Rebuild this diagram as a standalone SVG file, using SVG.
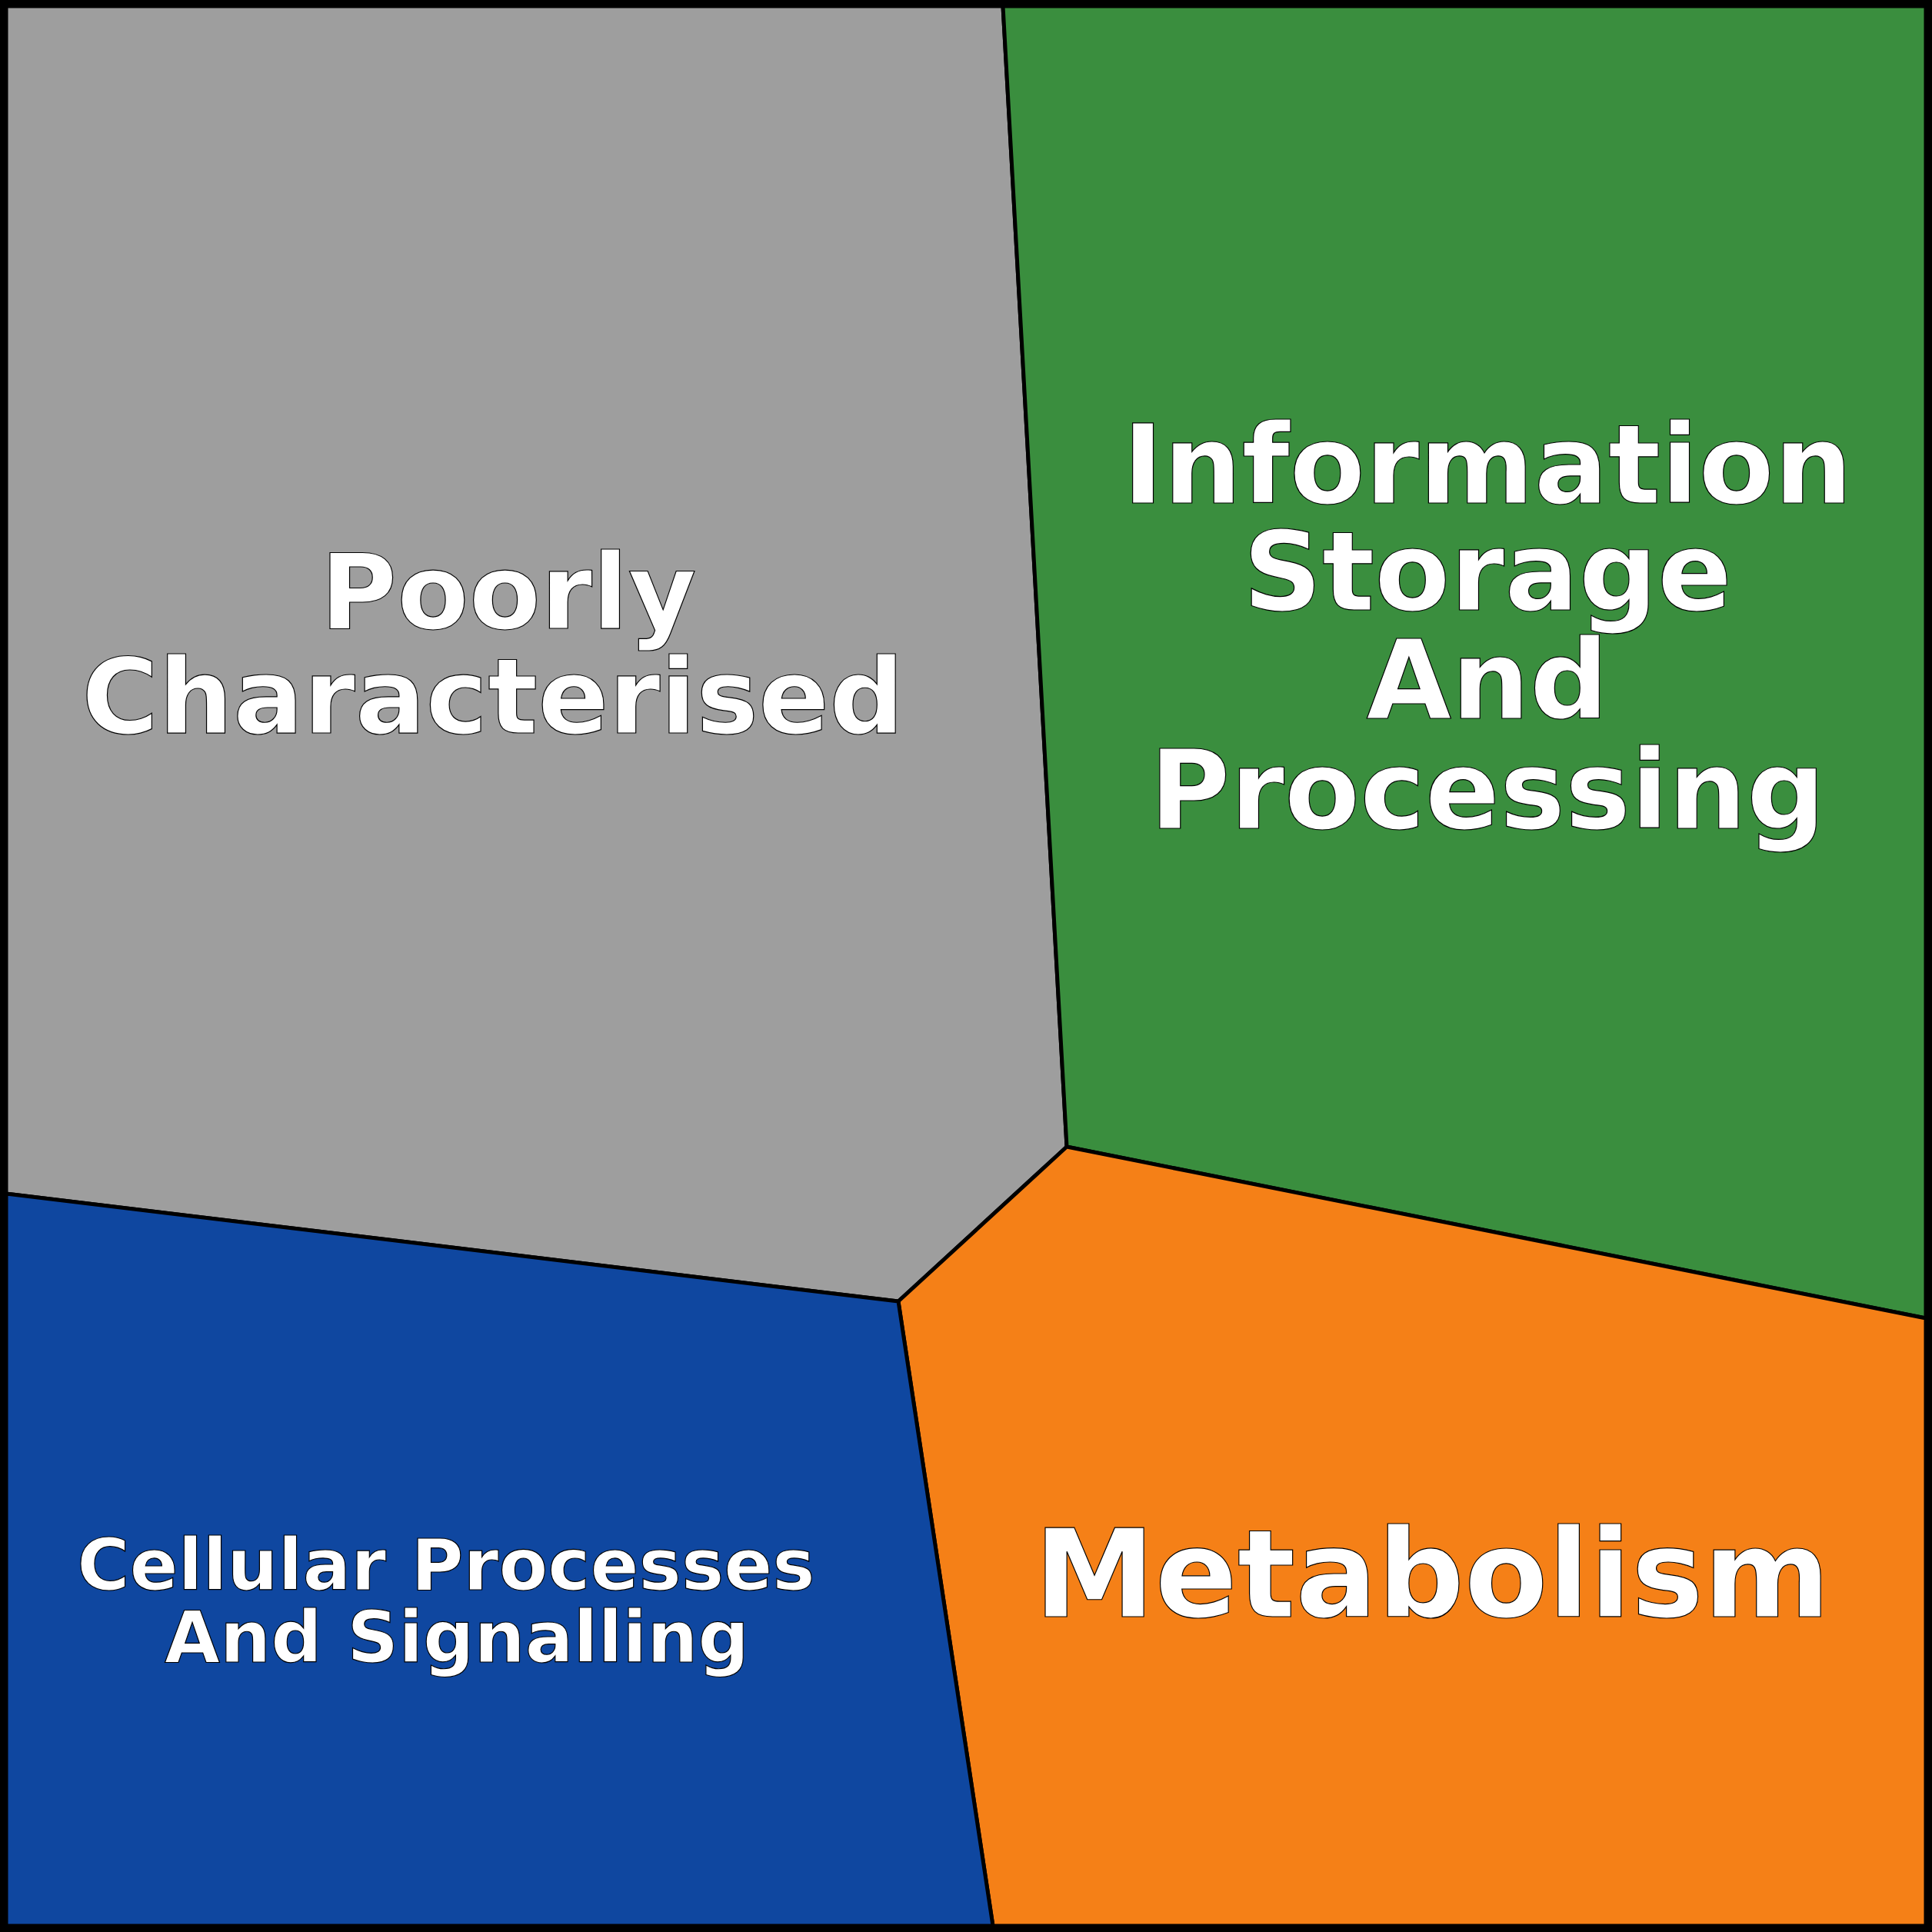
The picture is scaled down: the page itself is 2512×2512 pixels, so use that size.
<svg xmlns="http://www.w3.org/2000/svg" width="2512" height="2512" viewBox="0 0 2512 2512">
<style>
.r{stroke:#000;stroke-width:5;stroke-linejoin:round}
.t{font-family:"DejaVu Sans",sans-serif;font-weight:bold;fill:#fff;stroke:#000;stroke-width:1.2;text-anchor:middle}
</style>
<g id="poorly"><polygon class="r" fill="#9e9e9e" points="8,8 1304,8 1387,1491 1168,1692 8,1552"/>
<text class="t" font-size="136" x="661" y="817">Poorly</text><text class="t" font-size="136" x="641" y="953">Characterised</text></g>
<g id="info"><polygon class="r" fill="#3a8e3e" points="1304,8 2504,8 2504,1714 1387,1491"/>
<text class="t" font-size="143" x="1934" y="654">Information</text><text class="t" font-size="143" x="1934" y="793">Storage</text><text class="t" font-size="143" x="1934" y="934">And</text><text class="t" font-size="143" x="1934" y="1077">Processing</text></g>
<g id="metabolism"><polygon class="r" fill="#f58017" points="1387,1491 2504,1714 2504,2504 1291,2504 1168,1692"/>
<text class="t" font-size="158" x="1862" y="2102">Metabolism</text></g>
<g id="cellular"><polygon class="r" fill="#0f47a0" points="8,1552 1168,1692 1291,2504 8,2504"/>
<text class="t" font-size="93" x="580" y="2067">Cellular Processes</text><text class="t" font-size="93" x="594" y="2161">And Signalling</text></g>
<g id="connectors"></g>
<rect x="4" y="4" width="2504" height="2504" fill="none" stroke="#000" stroke-width="8"/>
</svg>
